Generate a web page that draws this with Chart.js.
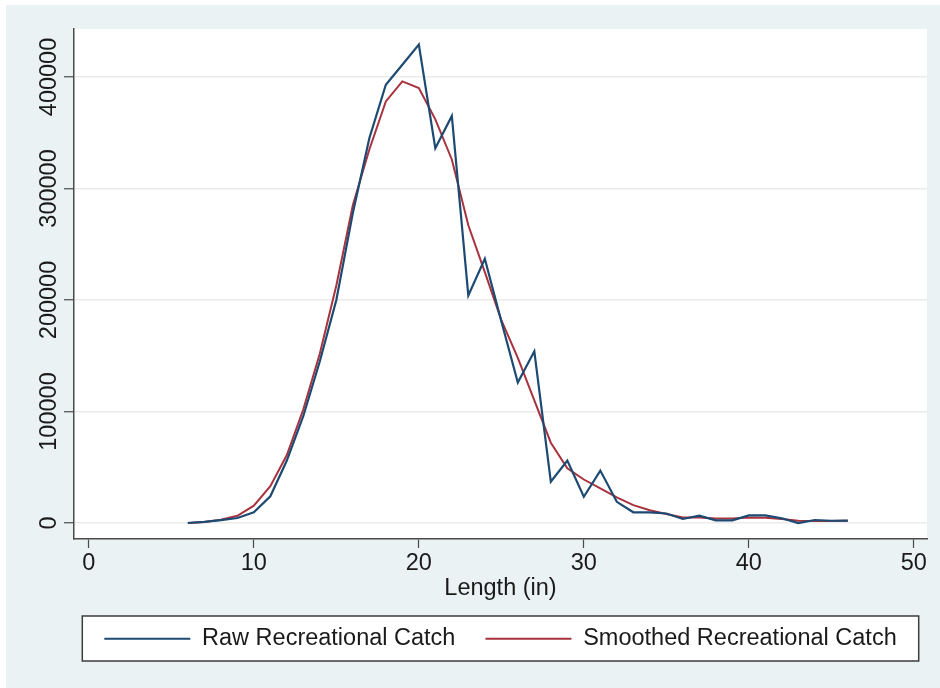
<!DOCTYPE html>
<html>
<head>
<meta charset="utf-8">
<title>Recreational Catch by Length</title>
<script src="https://cdn.jsdelivr.net/npm/chart.js@4.4.1/dist/chart.umd.min.js"></script>
<style>
    body { margin: 0; background: #fff; }
    canvas { display: block; }
</style>
</head>
<body>
<canvas id="lineChart" width="940" height="688"></canvas>
<script>
// fish length (in) and catch counts at each length
var lengths = [6, 7, 8, 9, 10, 11, 12, 13, 14, 15, 16, 17, 18, 19, 20, 21, 22, 23, 24, 25, 26,
    27, 28, 29, 30, 31, 32, 33, 34, 35, 36, 37, 38, 39, 40, 41, 42, 43, 44, 45, 46];
var rawCatch = [0, 1000, 2500, 4500, 9500, 24000, 56000, 96000, 145000, 200000, 278000,
    345000, 393000, 411000, 429000, 336000, 365000, 204000, 237000, 181000, 126000,
    154000, 37000, 56000, 23500, 47000, 19000, 9600, 9600, 8500, 3600, 6600, 2400, 2400,
    6800, 6800, 4200, 0, 2700, 2000, 2100];
var smoothCatch = [0, 1000, 3000, 6500, 15500, 33000, 61000, 102000, 152000, 213000, 285000,
    335000, 378000, 396000, 390000, 362000, 326000, 267000, 225000, 182000, 148000,
    110000, 72000, 49000, 39000, 31000, 23000, 16000, 11500, 8000, 5000, 5000, 4000, 4000,
    5000, 4700, 3500, 2000, 1800, 1800, 2000];
var xTicks = [0, 10, 20, 30, 40, 50];
var yTicks = [0, 100000, 200000, 300000, 400000];

var fontFamily = "'Liberation Sans', Arial, Helvetica, sans-serif";
var fontSize = 23.5;
var legendPad = 30;

function points(ys) {
    return lengths.map(function (x, i) { return { x: x, y: ys[i] }; });
}

// light bluish graph region, white plot region and the framed legend
var stataBackground = {
    id: 'stataBackground',
    beforeDraw: function (chart) {
        var ctx = chart.ctx;
        var area = chart.chartArea;
        var lg = chart.legend;
        ctx.save();
        ctx.fillStyle = '#ffffff';
        ctx.fillRect(0, 0, chart.width, chart.height);
        ctx.fillStyle = '#eaf2f3';
        ctx.fillRect(6, 5, chart.width - 6, chart.height - 5);
        ctx.fillStyle = '#ffffff';
        ctx.fillRect(area.left, area.top, area.right - area.left, area.bottom - area.top);

        var start = (lg.left + legendPad + lg.right - lg.lineWidths[0]) / 2;
        var end = start + lg.lineWidths[0] - legendPad;
        var left = start - 22;
        var right = end + 22;
        var top = lg.top + legendPad - 11;
        var bottom = lg.top + legendPad + fontSize + 10.5;
        ctx.fillRect(left, top, right - left, bottom - top);
        ctx.strokeStyle = '#3c3c3c';
        ctx.lineWidth = 1.5;
        ctx.strokeRect(left, top, right - left, bottom - top);
        ctx.restore();
    }
};

var ctx = document.getElementById('lineChart').getContext('2d');
var myLineChart = new Chart(ctx, {
    type: 'line',
    data: {
        datasets: [{
            label: 'Raw Recreational Catch',
            data: points(rawCatch),
            borderColor: '#1d4a72',
            backgroundColor: '#1d4a72',
            borderWidth: 2.2,
            pointRadius: 0,
            tension: 0,
            fill: false
        }, {
            label: 'Smoothed Recreational Catch',
            data: points(smoothCatch),
            borderColor: '#a8323e',
            backgroundColor: '#a8323e',
            borderWidth: 2,
            pointRadius: 0,
            tension: 0,
            fill: false
        }]
    },
    options: {
        responsive: false,
        animation: false,
        layout: {
            padding: { top: 29, right: 13, left: 0, bottom: 27.5 }
        },
        plugins: {
            tooltip: { enabled: false },
            legend: {
                position: 'bottom',
                fullSize: false,
                labels: {
                    boxWidth: 86,
                    boxHeight: 0,
                    padding: legendPad,
                    color: '#1a1a1a',
                    font: { family: fontFamily, size: fontSize }
                }
            }
        },
        scales: {
            x: {
                type: 'linear',
                min: -0.9,
                max: 50.8,
                afterBuildTicks: function (axis) {
                    axis.ticks = xTicks.map(function (v) { return { value: v }; });
                },
                afterFit: function (axis) { axis.height = 58; },
                grid: {
                    drawOnChartArea: false,
                    drawTicks: true,
                    tickLength: 9,
                    tickColor: '#4a4a4a',
                    tickWidth: 1.2
                },
                border: { display: true, color: '#4a4a4a', width: 1.5 },
                ticks: {
                    padding: 1,
                    maxRotation: 0,
                    color: '#1a1a1a',
                    font: { family: fontFamily, size: fontSize }
                },
                title: {
                    display: true,
                    text: 'Length (in)',
                    color: '#1a1a1a',
                    padding: { top: 0, bottom: -6 },
                    font: { family: fontFamily, size: fontSize }
                }
            },
            y: {
                type: 'linear',
                min: -14350,
                max: 443000,
                afterBuildTicks: function (axis) {
                    axis.ticks = yTicks.map(function (v) { return { value: v }; });
                },
                afterFit: function (axis) { axis.width = 74; },
                grid: {
                    color: '#ebebeb',
                    lineWidth: 1.5,
                    drawTicks: true,
                    tickLength: 10,
                    tickColor: '#4a4a4a',
                    tickWidth: 1.2
                },
                border: { display: true, color: '#4a4a4a', width: 1.5 },
                ticks: {
                    minRotation: 90,
                    maxRotation: 90,
                    crossAlign: 'center',
                    padding: -25,
                    color: '#1a1a1a',
                    font: { family: fontFamily, size: fontSize },
                    callback: function (value) { return String(value); }
                }
            }
        }
    },
    plugins: [stataBackground]
});
</script>
</body>
</html>
